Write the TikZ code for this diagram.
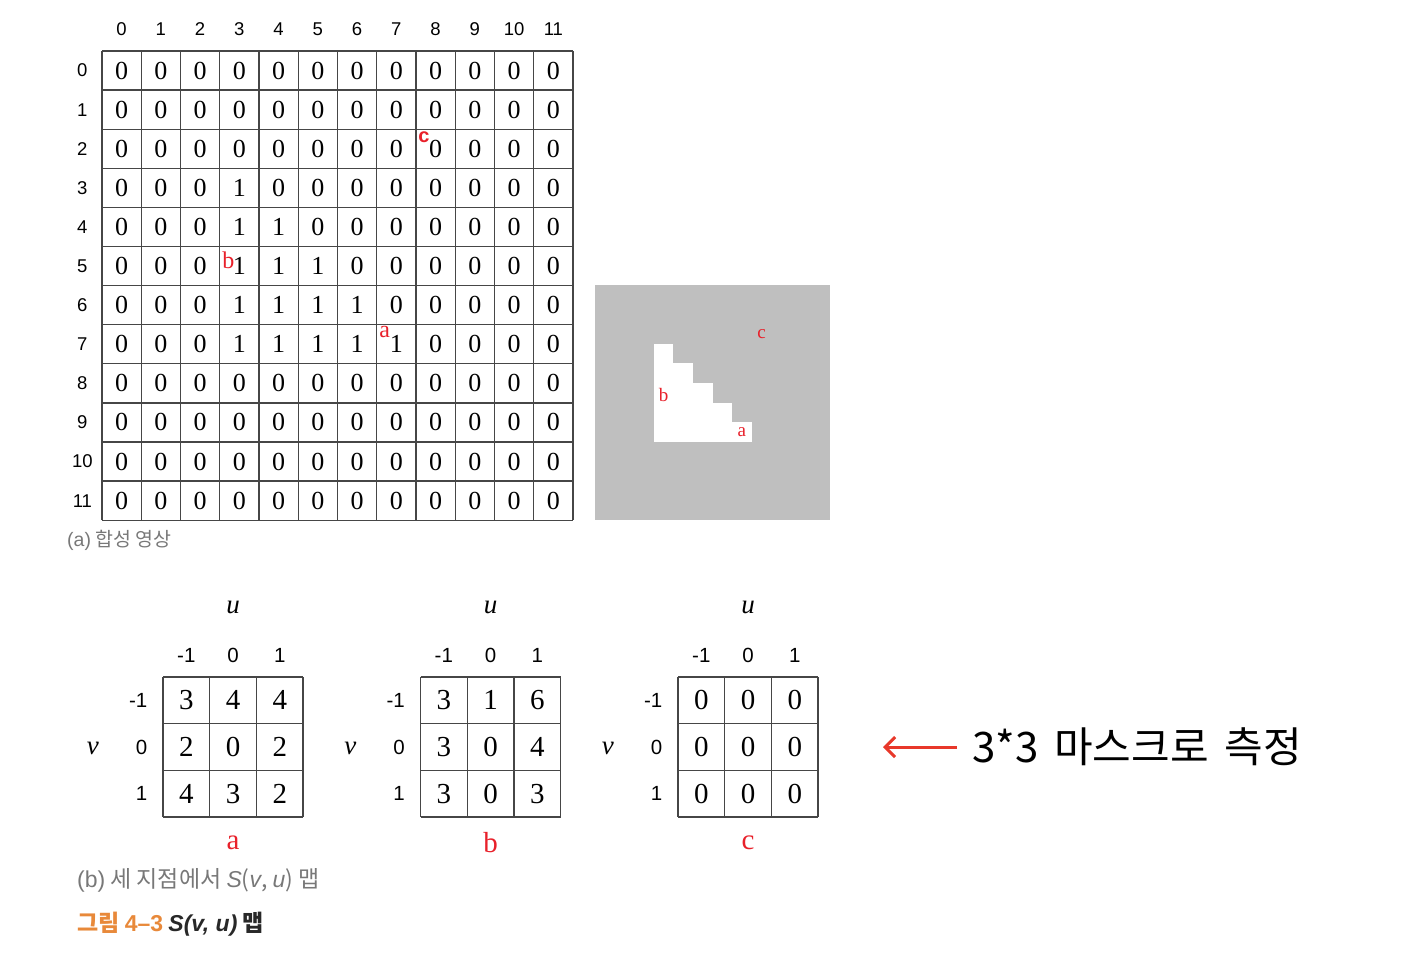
\documentclass[tikz,border=0pt]{standalone}
\usepackage{fontspec}
\setmainfont{Liberation Serif}
\setsansfont{Liberation Sans}
\newfontfamily\kofont{Noto Sans CJK KR}
\usepackage{tikz}
\usetikzlibrary{arrows.meta,positioning}

\definecolor{gridgray}{RGB}{70,70,70}
\definecolor{imggray}{RGB}{191,191,191}
\definecolor{markred}{RGB}{232,32,42}
\definecolor{arrowred}{RGB}{232,56,42}
\definecolor{capgray}{RGB}{120,120,120}
\definecolor{caporange}{RGB}{232,137,58}
\definecolor{capdark}{RGB}{40,40,40}

\newcommand{\fsz}[1]{\fontsize{#1}{#1}\selectfont}

\begin{document}
\begin{tikzpicture}[x=1pt,y=-1pt,
  gridline/.style={draw=gridgray,line width=1.3pt},
  cellnum/.style={inner sep=0pt,font=\fsz{26}},
  masknum/.style={inner sep=0pt,font=\fsz{29}},
  headnum/.style={inner sep=0pt,font=\sffamily\fsz{18.5}},
  maskhead/.style={inner sep=0pt,font=\sffamily\fsz{20.5}},
  axislabel/.style={inner sep=0pt,font=\itshape\fsz{27}},
  marklabel/.style={inner sep=0pt,text=markred,font=\fsz{24}},
  masklabel/.style={inner sep=0pt,text=markred,font=\fsz{29}},
  caption/.style={inner sep=0pt,anchor=west,font=\kofont\fsz{19}},
  masktext/.style={inner sep=0pt,anchor=west,font=\kofont\fsz{42}},
  redarrow/.style={draw=arrowred,line width=3pt,-{Straight Barb[length=10pt,width=20pt]}}]
\useasboundingbox (0,0) rectangle (1426,962);

% (a) synthetic image as numbers
\begin{scope}[shift={(102,51)},x=39.25pt,y=-39.1pt]
  \foreach \i in {0,...,12} {
    \draw[gridline] (\i,0) -- (\i,12);
    \draw[gridline] (0,\i) -- (12,\i);
  }
  \foreach \c in {0,...,11} {
    \node[headnum] (colh-\c) at (\c+0.5,-0.55) {\c};
    \node[headnum] (rowh-\c) at (-0.5,\c+0.5) {\c};
  }
  \foreach \r in {0,...,11}
    \foreach \c in {0,...,11} {
      \pgfmathtruncatemacro\v{and(and(\r>=3,\r<=7),and(\c>=3,\c<=\r))}
      \node[cellnum] (g-\r-\c) at (\c+0.5,\r+0.5) {\v};
    }
  \node[marklabel,font=\sffamily\bfseries\fsz{20}] (gc) at (8.2,2.21) {c};
  \node[marklabel] (gb) at (3.22,5.36) {b};
  \node[marklabel] (ga) at (7.2,7.18) {a};
\end{scope}

% (a) synthetic image as picture
\begin{scope}[shift={(595,285)},x=19.583pt,y=-19.583pt]
  \fill[imggray] (0,0) rectangle (12,12);
  \foreach \r in {3,...,7}
    \fill[white] (3,\r) rectangle (\r+1,\r+1);
  \node[marklabel,font=\fsz{19}] (ic) at (8.5,2.5) {c};
  \node[marklabel,font=\fsz{19}] (ib) at (3.5,5.6) {b};
  \node[marklabel,font=\fsz{19}] (ia) at (7.5,7.5) {a};
\end{scope}

\node[caption,text=capgray,font=\kofont\fsz{19.5}] (capa) at (67,540) {{\sffamily (a)} 합성 영상};

% (b) S(v,u) maps
\foreach \m/\L/\vals in {a/163/{3,4,4,2,0,2,4,3,2},
                         b/420.5/{3,1,6,3,0,4,3,0,3},
                         c/678/{0,0,0,0,0,0,0,0,0}} {
  \begin{scope}[shift={(\L,677)},x=46.7pt,y=-46.7pt]
    \foreach \i in {0,...,3} {
      \draw[gridline] (\i,0) -- (\i,3);
      \draw[gridline] (0,\i) -- (3,\i);
    }
    \foreach \v [count=\i from 0] in \vals {
      \pgfmathtruncatemacro\r{int(\i/3)}
      \pgfmathtruncatemacro\c{mod(\i,3)}
      \node[masknum] (\m-\r-\c) at (\c+0.5,\r+0.5) {\v};
    }
    \foreach \h [count=\k from 0] in {-1,0,1} {
      \node[maskhead] (\m-colh-\k) at (\k+0.5,-0.47) {\h};
      \node[maskhead,anchor=east] (\m-rowh-\k) at (-0.33,\k+0.5) {\h};
    }
    \node[axislabel] (\m-u) at (1.5,-1.5) {u};
    \node[axislabel] (\m-v) at (-1.5,1.52) {v};
    \node[masklabel] (\m-name) at (1.5,3.55) {\m};
  \end{scope}
}

\node[caption,text=capgray,font=\kofont\fsz{23}] (capb) at (77,880)
  {{\sffamily (b)} 세 지점에서 {\sffamily\itshape S}({\sffamily\itshape v}, {\sffamily\itshape u}) 맵};
\node[caption,font=\kofont\bfseries\fsz{23}] (capfig) at (77,924)
  {\textcolor{caporange}{그림 {\sffamily 4--3}} \textcolor{capdark}{{\sffamily\itshape S(v, u)} 맵}};

% measuring note
\node[masktext] (mask) at (972,747) {3*3\hspace{0.15em} 마스크로\hspace{0.15em} 측정};
\coordinate (tip) at (883,747);
\draw[redarrow] ([xshift=-15pt]mask.west) -- (tip);
\end{tikzpicture}
\end{document}
